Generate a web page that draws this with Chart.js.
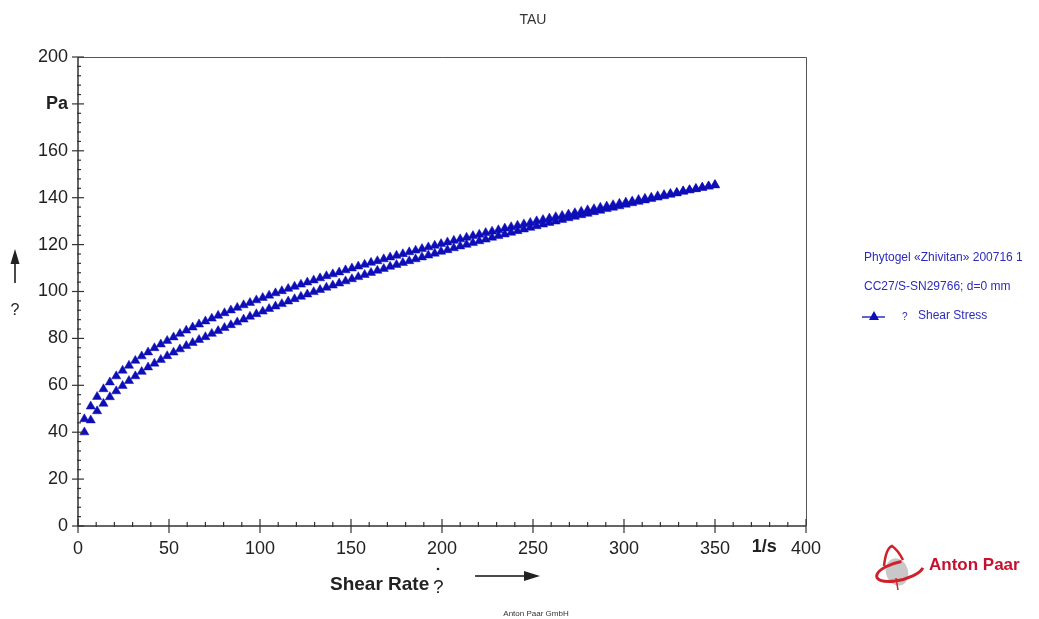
<!DOCTYPE html>
<html>
<head>
<meta charset="utf-8">
<script src="https://cdn.jsdelivr.net/npm/chart.js@4.4.1/dist/chart.umd.min.js"></script>
<style>
  html, body { margin: 0; padding: 0; background: #ffffff; }
  #wrap { position: relative; width: 1039px; height: 619px; }
</style>
</head>
<body>
<div id="wrap"><canvas id="c"></canvas></div>
<script>
// ---- data ----
const shearRate = [
  3.5, 7, 10.5, 14, 17.5, 21, 24.5, 28, 31.5, 35,
  38.5, 42, 45.5, 49, 52.5, 56, 59.5, 63, 66.5, 70,
  73.5, 77, 80.5, 84, 87.5, 91, 94.5, 98, 101.5, 105,
  108.5, 112, 115.5, 119, 122.5, 126, 129.5, 133, 136.5, 140,
  143.5, 147, 150.5, 154, 157.5, 161, 164.5, 168, 171.5, 175,
  178.5, 182, 185.5, 189, 192.5, 196, 199.5, 203, 206.5, 210,
  213.5, 217, 220.5, 224, 227.5, 231, 234.5, 238, 241.5, 245,
  248.5, 252, 255.5, 259, 262.5, 266, 269.5, 273, 276.5, 280,
  283.5, 287, 290.5, 294, 297.5, 301, 304.5, 308, 311.5, 315,
  318.5, 322, 325.5, 329, 332.5, 336, 339.5, 343, 346.5, 350
];
const stressUp = [
  45.6, 51.0, 55.1, 58.4, 61.3, 63.9, 66.3, 68.4, 70.5, 72.4,
  74.1, 75.9, 77.5, 79.0, 80.5, 82.0, 83.4, 84.7, 86.0, 87.3,
  88.5, 89.7, 90.8, 92.0, 93.1, 94.2, 95.2, 96.3, 97.3, 98.3,
  99.3, 100.2, 101.2, 102.1, 103.0, 103.9, 104.8, 105.7, 106.6, 107.4,
  108.2, 109.1, 109.9, 110.7, 111.5, 112.3, 113.0, 113.8, 114.6, 115.3,
  116.0, 116.8, 117.5, 118.2, 118.9, 119.6, 120.3, 121.0, 121.7, 122.3,
  123.0, 123.7, 124.3, 125.0, 125.6, 126.2, 126.9, 127.5, 128.1, 128.7,
  129.3, 130.0, 130.6, 131.2, 131.8, 132.3, 132.9, 133.5, 134.1, 134.7,
  135.2, 135.8, 136.3, 136.9, 137.5, 138.0, 138.5, 139.1, 139.6, 140.1,
  140.7, 141.2, 141.7, 142.2, 142.8, 143.3, 143.8, 144.3, 144.8, 145.3
];
const stressDown = [
  40.0, 45.1, 49.0, 52.2, 55.0, 57.5, 59.8, 61.9, 63.9, 65.8,
  67.7, 69.3, 70.9, 72.5, 74.0, 75.4, 76.8, 78.1, 79.4, 80.6,
  82.0, 83.2, 84.5, 85.7, 86.9, 88.1, 89.3, 90.4, 91.5, 92.6,
  93.7, 94.7, 95.8, 96.8, 97.8, 98.8, 99.8, 100.7, 101.7, 102.6,
  103.5, 104.4, 105.3, 106.2, 107.1, 108.0, 108.9, 109.7, 110.6, 111.4,
  112.2, 113.0, 113.8, 114.6, 115.4, 116.2, 117.0, 117.7, 118.5, 119.3,
  120.0, 120.7, 121.5, 122.2, 123.0, 123.7, 124.4, 125.1, 125.8, 126.5,
  127.2, 127.9, 128.6, 129.3, 129.9, 130.6, 131.3, 131.9, 132.6, 133.2,
  133.9, 134.5, 135.2, 135.8, 136.4, 137.1, 137.7, 138.3, 138.9, 139.5,
  140.1, 140.7, 141.3, 141.9, 142.6, 143.2, 143.7, 144.3, 144.9, 145.5
];
const xTickStep = 50;
const yTickStep = 20;
const xMax = 400;
const yMax = 200;
const yUnitTick = 180;       // tick replaced by the unit label "Pa"
const xUnitValue = 377;      // where "1/s" sits on the x axis
const titleText = 'TAU';
const legendLines = ['Phytogel \u00abZhivitan\u00bb 200716 1', 'CC27/S-SN29766; d=0 mm'];
const seriesName = 'Shear Stress';

const BLUE = '#0e0eb8';
const TEXTBLUE = '#2c2cbc';
const FONT = '"Liberation Sans", Arial, sans-serif';

function toPoints(xs, ys) { return xs.map((x, i) => ({ x: x, y: ys[i] })); }

const decor = {
  id: 'decor',
  afterDraw(chart) {
    const ctx = chart.ctx;
    const a = chart.chartArea;
    const xs = chart.scales.x, ys = chart.scales.y;
    ctx.save();
    // frame (top & right)
    ctx.strokeStyle = '#555';
    ctx.lineWidth = 1;
    ctx.beginPath();
    ctx.moveTo(a.left, a.top + 0.5); ctx.lineTo(a.right + 0.5, a.top + 0.5);
    ctx.lineTo(a.right + 0.5, a.bottom);
    ctx.stroke();
    // axes
    ctx.strokeStyle = '#333';
    ctx.lineWidth = 1.5;
    ctx.beginPath();
    ctx.moveTo(a.left, a.top); ctx.lineTo(a.left, a.bottom); ctx.lineTo(a.right, a.bottom);
    ctx.stroke();
    // y ticks
    ctx.lineWidth = 1.2;
    for (let v = 0; v <= yMax; v += 4) {
      const py = ys.getPixelForValue(v);
      ctx.beginPath();
      if (v % yTickStep === 0) { ctx.moveTo(a.left - 6, py); ctx.lineTo(a.left + 6, py); }
      else { ctx.moveTo(a.left - 1, py); ctx.lineTo(a.left + 3, py); }
      ctx.stroke();
    }
    // x ticks
    for (let v = 0; v <= xMax; v += 10) {
      const px = xs.getPixelForValue(v);
      ctx.beginPath();
      if (v % xTickStep === 0) { ctx.moveTo(px, a.bottom - 7); ctx.lineTo(px, a.bottom + 7); }
      else { ctx.moveTo(px, a.bottom - 4); ctx.lineTo(px, a.bottom + 1); }
      ctx.stroke();
    }
    // 1/s unit label
    ctx.fillStyle = '#222';
    ctx.font = 'bold 18px ' + FONT;
    ctx.textAlign = 'center'; ctx.textBaseline = 'middle';
    ctx.fillText('1/s', xs.getPixelForValue(xUnitValue), 547);
    // title
    ctx.font = '14px ' + FONT;
    ctx.fillStyle = '#333';
    ctx.fillText(titleText, 533, 20);
    // x axis title
    ctx.font = 'bold 19px ' + FONT;
    ctx.fillStyle = '#222';
    ctx.textAlign = 'left';
    ctx.fillText('Shear Rate', 330, 585);
    ctx.font = '19px ' + FONT;
    ctx.fillText('?', 433, 588);
    ctx.beginPath(); ctx.arc(438, 569, 1.3, 0, Math.PI * 2); ctx.fill();
    // x arrow
    ctx.strokeStyle = '#111'; ctx.lineWidth = 1.5;
    ctx.beginPath(); ctx.moveTo(475, 576); ctx.lineTo(526, 576); ctx.stroke();
    ctx.beginPath(); ctx.moveTo(540, 576); ctx.lineTo(524, 571); ctx.lineTo(524, 581); ctx.closePath(); ctx.fill();
    // y arrow
    ctx.beginPath(); ctx.moveTo(15, 283); ctx.lineTo(15, 262); ctx.stroke();
    ctx.beginPath(); ctx.moveTo(15, 249); ctx.lineTo(10.5, 264); ctx.lineTo(19.5, 264); ctx.closePath(); ctx.fill();
    ctx.font = '16px ' + FONT;
    ctx.textAlign = 'center';
    ctx.fillText('?', 15, 311);
    // footer
    ctx.font = '8px ' + FONT;
    ctx.fillStyle = '#333';
    ctx.fillText('Anton Paar GmbH', 536, 614);
    // legend
    ctx.fillStyle = TEXTBLUE;
    ctx.font = '12px ' + FONT;
    ctx.textAlign = 'left';
    ctx.fillText(legendLines[0], 864, 258);
    ctx.fillText(legendLines[1], 864, 287);
    ctx.strokeStyle = BLUE; ctx.lineWidth = 1.3;
    ctx.beginPath(); ctx.moveTo(862, 317); ctx.lineTo(885, 317); ctx.stroke();
    ctx.fillStyle = BLUE;
    ctx.beginPath(); ctx.moveTo(874, 311); ctx.lineTo(869, 320); ctx.lineTo(879, 320); ctx.closePath(); ctx.fill();
    ctx.fillStyle = TEXTBLUE;
    ctx.font = '10px ' + FONT;
    ctx.fillText('?', 902, 317);
    ctx.font = '12px ' + FONT;
    ctx.fillText(seriesName, 918, 316);
    // Anton Paar logo
    ctx.fillStyle = '#c8c8c8';
    ctx.beginPath(); ctx.ellipse(897, 572, 11, 14, -0.3, 0, Math.PI * 2); ctx.fill();
    ctx.strokeStyle = '#d0202c'; ctx.lineWidth = 3;
    ctx.beginPath(); ctx.ellipse(900, 571, 24, 9, -0.25, 0.3, Math.PI * 1.55); ctx.stroke();
    ctx.lineWidth = 2.5;
    ctx.beginPath(); ctx.moveTo(884, 566); ctx.quadraticCurveTo(886, 548, 892, 546); ctx.quadraticCurveTo(898, 550, 903, 560); ctx.stroke();
    ctx.lineWidth = 1.5;
    ctx.beginPath(); ctx.moveTo(896, 578); ctx.lineTo(898, 590); ctx.stroke();
    ctx.fillStyle = '#c8102e';
    ctx.font = 'bold 17px ' + FONT;
    ctx.textAlign = 'left';
    ctx.fillText('Anton Paar', 929, 565);
    ctx.restore();
  }
};

new Chart(document.getElementById('c'), {
  type: 'scatter',
  data: {
    datasets: [
      { label: seriesName + ' (up)', data: toPoints(shearRate, stressUp),
        pointStyle: 'triangle', pointRadius: 5.3, backgroundColor: BLUE, borderColor: BLUE, borderWidth: 0.5, showLine: false },
      { label: seriesName + ' (down)', data: toPoints(shearRate, stressDown),
        pointStyle: 'triangle', pointRadius: 5.3, backgroundColor: BLUE, borderColor: BLUE, borderWidth: 0.5, showLine: false }
    ]
  },
  options: {
    responsive: true,
    maintainAspectRatio: false,
    animation: false,
    devicePixelRatio: 1,
    layout: { padding: { top: 57, right: 233, left: 0, bottom: 0 } },
    plugins: { legend: { display: false }, tooltip: { enabled: false }, title: { display: false } },
    scales: {
      x: {
        type: 'linear', min: 0, max: xMax,
        grid: { display: false, drawTicks: false }, border: { display: false },
        afterFit(s) { s.height = 93; },
        ticks: { stepSize: xTickStep, padding: 12, color: '#222', font: { family: FONT, size: 18 } }
      },
      y: {
        type: 'linear', min: 0, max: yMax,
        grid: { display: false, drawTicks: false }, border: { display: false },
        afterFit(s) { s.width = 78; },
        ticks: {
          stepSize: yTickStep, padding: 10, color: '#222',
          font: (c) => (c.tick && c.tick.value === yUnitTick) ? { family: FONT, size: 18, weight: 'bold' } : { family: FONT, size: 18 },
          callback: (v) => v === yUnitTick ? 'Pa' : v
        }
      }
    }
  },
  plugins: [decor]
});
</script>
</body>
</html>
